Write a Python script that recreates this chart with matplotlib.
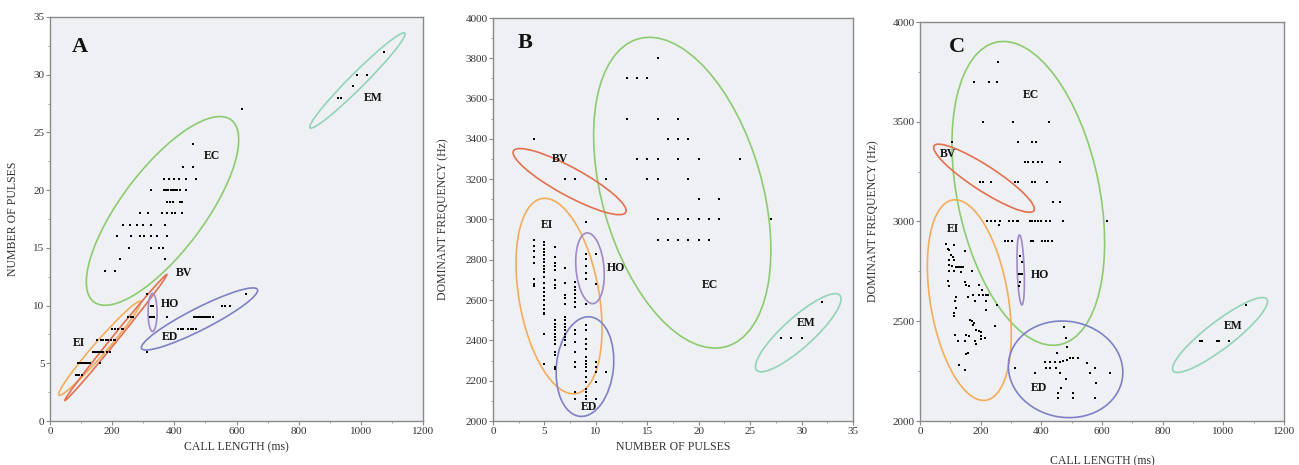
import numpy as np
import matplotlib
matplotlib.use("Agg")
import matplotlib.pyplot as plt
from matplotlib.patches import Ellipse
from matplotlib.transforms import ScaledTranslation
from matplotlib.ticker import MultipleLocator

plt.rcParams['font.family'] = ['Liberation Serif', 'DejaVu Serif']

# ---------------- Panel A: call length (ms) vs number of pulses ----------------
a_em_len = [925, 935, 975, 989, 1021, 1075]
a_em_pul = [28, 28, 29, 30, 30, 32]

a_ec_len = [460, 429, 459,
            366, 384, 399, 415, 436, 469,
            324, 366, 373, 380, 388, 395, 403, 410, 418, 436,
            377, 386, 396, 418, 426,
            291, 316, 361, 375, 391, 402, 426,
            234, 257, 279, 300, 324, 370,
            217, 259, 289, 302, 324, 345, 375,
            255, 324, 351, 364,
            226, 370,
            177, 209,
            618]
a_ec_pul = [24, 22, 22,
            21, 21, 21, 21, 21, 21,
            20, 20, 20, 20, 20, 20, 20, 20, 20, 20,
            19, 19, 19, 19, 19,
            18, 18, 18, 18, 18, 18, 18,
            17, 17, 17, 17, 17, 17,
            16, 16, 16, 16, 16, 16, 16,
            15, 15, 15, 15,
            14, 14,
            13, 13,
            27]

a_bv_len = [104, 207, 233, 312]
a_bv_pul = [4, 7, 8, 11]

a_ho_len = [325, 330, 322, 328, 334]
a_ho_pul = [10, 10, 9, 9, 9]

a_ed_len = [632, 552, 562, 579,
            464, 470, 475, 481, 486, 492, 497, 503, 508, 514, 525,
            412, 420, 429, 445, 453, 461, 471,
            311, 377]
a_ed_pul = [11, 10, 10, 10,
            9, 9, 9, 9, 9, 9, 9, 9, 9, 9, 9,
            8, 8, 8, 8, 8, 8, 8,
            6, 9]

a_ei_len = [252, 259, 266,
            201, 208, 220, 236,
            150, 165, 172, 180, 187, 195, 209,
            139, 145, 150, 156, 161, 167, 172, 182, 193,
            91, 97, 102, 108, 113, 118, 123, 129, 161,
            84, 88, 92, 102]
a_ei_pul = [9, 9, 9,
            8, 8, 8, 8,
            7, 7, 7, 7, 7, 7, 7,
            6, 6, 6, 6, 6, 6, 6, 6, 6,
            5, 5, 5, 5, 5, 5, 5, 5, 5,
            4, 4, 4, 4]

# ---------------- Panel B: number of pulses vs dominant frequency (Hz) ----------------
b_ec_pul = [16, 13, 14, 15, 13, 16, 18, 17, 18, 19,
            14, 15, 16, 18, 20, 24, 15, 16, 19, 20, 22,
            16, 17, 18, 19, 20, 21, 22, 27,
            16, 17, 18, 19, 20, 21]
b_ec_frq = [3800, 3700, 3700, 3700, 3500, 3500, 3500, 3400, 3400, 3400,
            3300, 3300, 3300, 3300, 3300, 3300, 3200, 3200, 3200, 3100, 3100,
            3000, 3000, 3000, 3000, 3000, 3000, 3000, 3000,
            2900, 2900, 2900, 2900, 2900, 2900]

b_bv_pul = [4, 7, 8, 11]
b_bv_frq = [3400, 3200, 3200, 3200]

b_em_pul = [28, 29, 30, 32]
b_em_frq = [2410, 2410, 2410, 2590]

b_ei_pul = [4] * 8 + [5] * 22 + [6] * 20 + [7] * 14 + [8] * 7 + [9]
b_ei_frq = [2897, 2867, 2842, 2813, 2783, 2703, 2678, 2670,
            2888, 2872, 2855, 2837, 2822, 2805, 2788, 2770, 2753, 2737, 2717,
            2687, 2662, 2642, 2622, 2600, 2578, 2558, 2538, 2533, 2433, 2283,
            2862, 2813, 2783, 2767, 2747, 2700, 2675, 2658, 2500, 2483,
            2467, 2450, 2433, 2417, 2400, 2383, 2342, 2330, 2267, 2258,
            2758, 2683, 2625, 2608, 2580, 2517, 2503, 2483, 2467, 2450,
            2433, 2417, 2400, 2378,
            2688, 2667, 2650, 2630, 2608, 2590, 2567,
            2987]

b_ho_pul = [9, 9, 9, 9, 9, 9, 10, 10]
b_ho_frq = [2830, 2803, 2767, 2733, 2703, 2580, 2830, 2678]

b_ed_pul = [8] * 8 + [9] * 16 + [10] * 5 + [11]
b_ed_frq = [2450, 2433, 2392, 2342, 2292, 2267, 2142, 2108,
            2475, 2450, 2408, 2383, 2358, 2317, 2300, 2283, 2267, 2250,
            2217, 2192, 2158, 2142, 2108, 2125,
            2292, 2267, 2242, 2192, 2108,
            2242]

# ---------------- Panel C: call length (ms) vs dominant frequency (Hz) ----------------
c_ec_len = [258, 178, 227, 255, 209, 308, 426, 324, 368, 381,
            346, 357, 374, 388, 401, 462,
            313, 324, 368, 379, 420, 440, 462,
            220, 234, 247, 264, 293, 305, 319, 324, 363, 368, 379, 390, 399,
            414, 430, 471, 615, 262,
            280, 291, 302, 365, 374, 401, 412, 423, 436]
c_ec_frq = [3800, 3700, 3700, 3700, 3500, 3500, 3500, 3400, 3400, 3400,
            3300, 3300, 3300, 3300, 3300, 3300,
            3200, 3200, 3200, 3200, 3200, 3100, 3100,
            3000, 3000, 3000, 3000, 3000, 3000, 3000, 3000, 3000, 3000, 3000, 3000, 3000,
            3000, 3000, 3000, 3000, 2980,
            2900, 2900, 2900, 2900, 2900, 2900, 2900, 2900, 2900]

c_bv_len = [104, 198, 207, 233]
c_bv_frq = [3400, 3200, 3200, 3200]

c_ho_len = [330, 335, 328, 332, 336, 330, 328]
c_ho_frq = [2825, 2797, 2738, 2738, 2738, 2697, 2675]

c_em_len = [923, 931, 978, 986, 1019, 1074]
c_em_frq = [2400, 2400, 2400, 2400, 2400, 2580]

c_ei_len = [86, 113, 91, 97, 149, 102, 108, 95, 113, 97, 105, 119, 124, 130, 135, 141,
            97, 113, 135, 171, 91, 95, 147, 152, 163, 196, 205, 176, 193, 207, 218, 224,
            119, 158, 180, 216, 255, 117, 119, 113, 113, 218, 166, 172, 177, 176,
            185, 196, 202, 246, 202, 213, 117, 152, 163, 147, 125, 180, 202, 185,
            152, 158, 130, 149]
c_ei_frq = [2886, 2881, 2860, 2857, 2853, 2831, 2820, 2806, 2806, 2780, 2775, 2770, 2770,
            2770, 2770, 2770, 2750, 2750, 2745, 2753, 2700, 2675, 2695, 2680, 2675, 2682,
            2657, 2632, 2632, 2632, 2632, 2632, 2624, 2624, 2600, 2600, 2580, 2600, 2567,
            2540, 2525, 2555, 2508, 2500, 2492, 2483, 2458, 2450, 2445, 2475, 2425, 2417,
            2430, 2430, 2425, 2400, 2400, 2400, 2412, 2384, 2335, 2343, 2282, 2257]

c_ed_len = [474, 480, 483, 450, 312, 378, 413, 428, 444, 461, 416, 430, 449, 471, 483,
            494, 503, 521, 549, 560, 576, 628, 461, 480, 580, 466, 455, 505, 455, 505, 576]
c_ed_frq = [2470, 2417, 2372, 2343, 2268, 2243, 2296, 2296, 2296, 2296, 2268, 2268, 2268,
            2300, 2305, 2318, 2318, 2318, 2293, 2243, 2268, 2243, 2240, 2213, 2190, 2164,
            2140, 2140, 2114, 2114, 2114]

# group colours
COL = {
    'EC': '#8ccb70',
    'EM': '#93d3b8',
    'BV': '#e4704e',
    'EI': '#f3ac5a',
    'HO': '#a088c8',
    'ED': '#7f7fc6',
}

# ellipse outlines: group, centre (data), major/minor length (px), angle (deg)
a_ellipses = [
    ('EM', (989, 29.5), 134, 15, 45),
    ('EC', (362, 18.2), 228, 83, 53),
    ('EI', (160, 6.3), 124, 13, 49),
    ('BV', (212, 7.24), 162, 6, 51),
    ('HO', (330, 9.4), 38, 9, 90),
    ('ED', (481, 8.84), 130, 22, 27),
]
b_ellipses = [
    ('EC', (18.4, 3133), 320, 160, 106),
    ('BV', (7.45, 3188), 128, 28, -28.7),
    ('EI', (6.42, 2620), 198, 80, 100),
    ('HO', (9.43, 2758), 71, 28, 95),
    ('ED', (8.94, 2270), 100, 57, 84),
    ('EM', (29.68, 2438), 112, 30, 42),
]
c_ellipses = [
    ('EC', (357, 3141), 309, 142, 101.8),
    ('BV', (211, 3217), 119, 25, -33),
    ('EI', (162.6, 2606), 203, 78, 99.5),
    ('HO', (332, 2757), 70, 7, 92),
    ('ED', (480, 2259), 115, 96, -10),
    ('EM', (989, 2431), 118, 27, 37.5),
]

a_labels = [('EM', 1040, 28.0), ('EC', 521, 23.0), ('BV', 432, 12.8),
            ('HO', 386, 10.1), ('ED', 386, 7.25), ('EI', 92, 6.8)]
b_labels = [('BV', 6.5, 3300), ('EI', 5.2, 2973), ('HO', 12.0, 2758),
            ('EC', 21.1, 2675), ('EM', 30.5, 2485), ('ED', 9.3, 2068)]
c_labels = [('EC', 365, 3634), ('BV', 93, 3338), ('EI', 108, 2961),
            ('HO', 396, 2732), ('EM', 1033, 2478), ('ED', 392, 2164)]

BG = '#eef0f4'
SPINE = '#8a8a8a'


def setup_axes(ax, xlim, ylim, xmaj, ymaj, xlabel, ylabel, letter, letter_pos,
               xlab_y, ylab_x):
    ax.set_facecolor(BG)
    ax.set_xlim(*xlim)
    ax.set_ylim(*ylim)
    ax.xaxis.set_major_locator(MultipleLocator(xmaj))
    ax.xaxis.set_minor_locator(MultipleLocator(xmaj / 2))
    ax.yaxis.set_major_locator(MultipleLocator(ymaj))
    ax.yaxis.set_minor_locator(MultipleLocator(ymaj / 2))
    for s in ax.spines.values():
        s.set_color(SPINE)
        s.set_linewidth(1.0)
    ax.tick_params(which='major', direction='out', length=3, width=0.8,
                   color=SPINE, labelsize=8, pad=1, labelcolor='#333333')
    ax.tick_params(which='minor', direction='out', length=1.5, width=0.6,
                   color=SPINE)
    ax.set_xlabel(xlabel, fontsize=8.5, color='#333333')
    ax.set_ylabel(ylabel, fontsize=8.5, color='#333333')
    ax.xaxis.set_label_coords(0.5, xlab_y)
    ax.yaxis.set_label_coords(ylab_x, 0.5)
    ax.text(letter_pos[0], letter_pos[1], letter, fontsize=16, fontweight='bold',
            ha='center', va='center', color='#111111')


def draw_groups(ax, xs_list, ys_list):
    for xs, ys in zip(xs_list, ys_list):
        ax.scatter(xs, ys, s=4.5, marker='s', color='black', linewidths=0, zorder=3)


def draw_ellipses(fig, ax, ellipses):
    for grp, (cx, cy), w, h, ang in ellipses:
        tr = fig.dpi_scale_trans + ScaledTranslation(cx, cy, ax.transData)
        e = Ellipse((0, 0), w / 100.0, h / 100.0, angle=ang, transform=tr,
                    fill=False, edgecolor=COL[grp], linewidth=1.2, zorder=2)
        ax.add_patch(e)


def draw_labels(ax, labels):
    for txt, x, y in labels:
        ax.text(x, y, txt, fontsize=8.5, fontweight='bold', ha='center',
                va='center', color='#111111', zorder=4)


fig = plt.figure(figsize=(12.99, 4.65), dpi=100)

axA = fig.add_axes([50 / 1299, 44 / 465, 373 / 1299, 404 / 465])
axB = fig.add_axes([493 / 1299, 44 / 465, 360 / 1299, 403 / 465])
axC = fig.add_axes([920 / 1299, 44 / 465, 364 / 1299, 399 / 465])

setup_axes(axA, (0, 1200), (0, 35), 200, 5, 'CALL LENGTH (ms)', 'NUMBER OF PULSES',
           'A', (96, 32.4), -0.05, -0.083)
setup_axes(axB, (0, 35), (2000, 4000), 5, 200, 'NUMBER OF PULSES',
           'DOMINANT FREQUENCY (Hz)', 'B', (3.1, 3874), -0.05, -0.122)
setup_axes(axC, (0, 1200), (2000, 4000), 200, 500, 'CALL LENGTH (ms)',
           'DOMINANT FREQUENCY (Hz)', 'C', (121, 3876), -0.085, -0.113)

draw_ellipses(fig, axA, a_ellipses)
draw_ellipses(fig, axB, b_ellipses)
draw_ellipses(fig, axC, c_ellipses)

draw_groups(axA, [a_em_len, a_ec_len, a_bv_len, a_ho_len, a_ed_len, a_ei_len],
            [a_em_pul, a_ec_pul, a_bv_pul, a_ho_pul, a_ed_pul, a_ei_pul])
draw_groups(axB, [b_ec_pul, b_bv_pul, b_em_pul, b_ei_pul, b_ho_pul, b_ed_pul],
            [b_ec_frq, b_bv_frq, b_em_frq, b_ei_frq, b_ho_frq, b_ed_frq])
draw_groups(axC, [c_ec_len, c_bv_len, c_ho_len, c_em_len, c_ei_len, c_ed_len],
            [c_ec_frq, c_bv_frq, c_ho_frq, c_em_frq, c_ei_frq, c_ed_frq])

draw_labels(axA, a_labels)
draw_labels(axB, b_labels)
draw_labels(axC, c_labels)

fig.savefig('out.png', dpi=100, facecolor='white')
